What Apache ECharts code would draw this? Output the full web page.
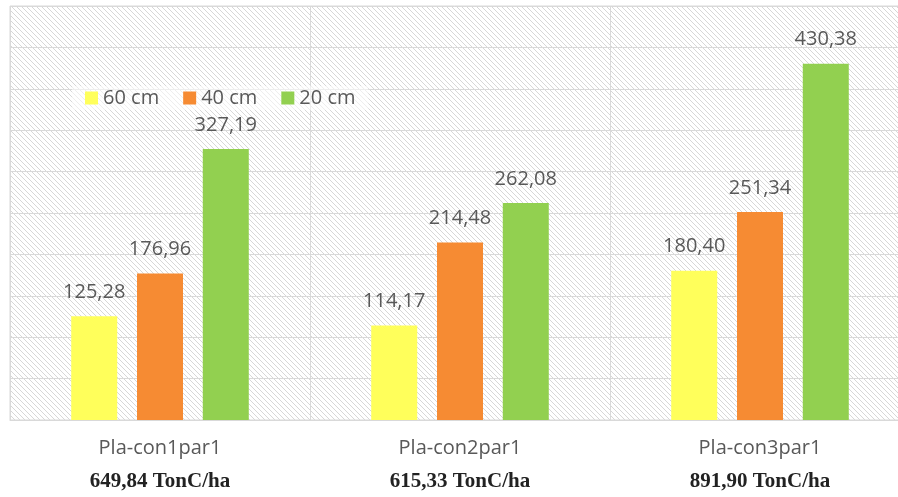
<!DOCTYPE html>
<html><head><meta charset="utf-8">
<script src="https://cdn.jsdelivr.net/npm/echarts@6/dist/echarts.min.js"></script>
<style>html,body{margin:0;padding:0;background:#fff}#c{width:898px;height:497px}</style>
</head><body><div id="c"></div>
<script>
const categories = ['Pla-con1par1', 'Pla-con2par1', 'Pla-con3par1'];
const totals = ['649,84 TonC/ha', '615,33 TonC/ha', '891,90 TonC/ha'];
const seriesNames = ['60 cm', '40 cm', '20 cm'];
const s60 = [125.28, 114.17, 180.40];
const s40 = [176.96, 214.48, 251.34];
const s20 = [327.19, 262.08, 430.38];
const colors = ['#FFFF5B', '#F68B33', '#92D050'];

const tile = document.createElement('canvas');
tile.width = 5; tile.height = 5;
const tc = tile.getContext('2d');
tc.fillStyle = '#ffffff'; tc.fillRect(0,0,5,5);
tc.strokeStyle = '#d3d3d3'; tc.lineWidth = 0.9;
tc.beginPath();
tc.moveTo(-1,-1); tc.lineTo(6,6);
tc.moveTo(-1,4); tc.lineTo(1,6);
tc.moveTo(4,-1); tc.lineTo(6,1);
tc.stroke();

const fmt = v => v.toFixed(2).replace('.', ',');
const chart = echarts.init(document.getElementById('c'), null, {renderer: 'canvas'});
const data = [s60, s40, s20];
chart.setOption({
  animation: false,
  grid: {left: 10, top: 6, width: 900, height: 414, show: true, outerBoundsMode: 'none', containLabel: false,
         backgroundColor: {image: tile, repeat: 'repeat'}, borderColor: '#d9d9d9', borderWidth: 1},
  legend: {
    data: seriesNames, left: 72, top: 86, itemWidth: 13, itemHeight: 13, itemGap: 24,
    icon: 'rect', backgroundColor: 'rgba(255,255,255,0.55)', padding: [2, 13, 2, 13],
    textStyle: {fontFamily: 'Open Sans', fontSize: 20, color: '#595959'}
  },
  xAxis: {
    type: 'category', data: categories,
    axisLine: {lineStyle: {color: '#d9d9d9'}}, axisTick: {show: false},
    splitLine: {show: true, lineStyle: {color: '#d9d9d9'}},
    axisLabel: {
      margin: 13, interval: 0,
      formatter: (v, i) => '{a|' + v + '}\n{b|' + totals[i] + '}',
      rich: {
        a: {fontFamily: 'Open Sans', fontSize: 20, color: '#595959', lineHeight: 30},
        b: {fontFamily: 'Liberation Serif', fontWeight: 'bold', fontSize: 21, color: '#222', lineHeight: 38}
      }
    }
  },
  yAxis: {
    type: 'value', min: 0, max: 500, interval: 50,
    axisLabel: {show: false}, axisLine: {show: false}, axisTick: {show: false},
    splitLine: {lineStyle: {color: '#d9d9d9'}}
  },
  series: seriesNames.map((n, k) => ({
    name: n, type: 'bar', data: data[k], barWidth: 46, barGap: '43%',
    itemStyle: {color: colors[k]},
    label: {show: true, position: 'top', distance: 14, formatter: p => fmt(p.value),
            fontFamily: 'Open Sans', fontSize: 20, color: '#595959'}
  }))
});
</script></body></html>
